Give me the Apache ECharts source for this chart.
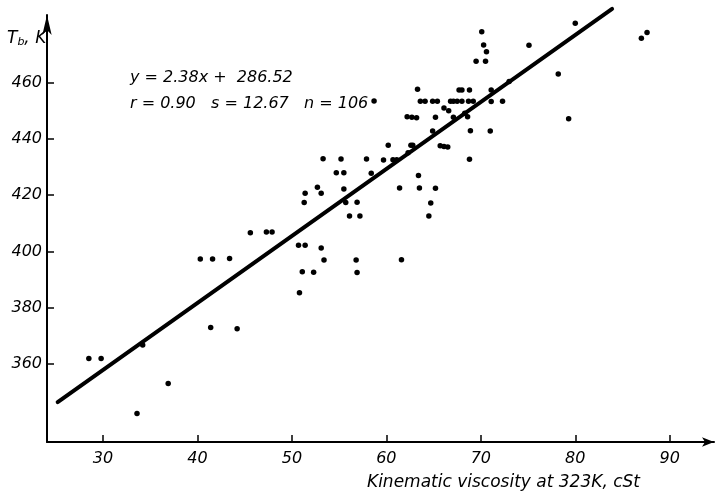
<!DOCTYPE html>
<html>
<head>
<meta charset="utf-8">
<style>
  html, body { margin: 0; padding: 0; background: #fff; }
  #chart { width: 722px; height: 500px; }
</style>
<script src="https://cdn.jsdelivr.net/npm/echarts@6/dist/echarts.min.js"></script>
</head>
<body>
<div id="chart"></div>
<script>
// Kinematic viscosity at 323 K (cSt) of each sample
const viscosity = [
  28.5, 29.8, 34.2, 36.9, 33.6, 41.4, 44.2, 40.3, 41.6, 43.4,
  45.6, 47.3, 47.9, 50.7, 51.4, 51.1, 52.3, 50.8, 53.1, 53.4,
  51.3, 51.4, 52.7, 53.1, 53.3, 54.7, 55.2, 55.5, 55.5, 55.7,
  56.1, 56.9, 57.2, 56.8, 56.9, 57.9, 58.4, 59.7, 60.2, 60.7,
  61.1, 61.4, 61.6, 62.6, 62.8, 63.4, 63.5, 58.7, 68.8, 65.2,
  64.7, 64.5, 70.1, 70.3, 70.6, 69.5, 70.5, 75.1, 80.0, 78.2,
  79.3, 73.0, 71.1, 71.1, 72.3, 71.0, 68.9, 63.3, 67.7, 68.0,
  68.8, 63.6, 64.1, 64.9, 65.4, 66.8, 67.1, 67.5, 68.0, 68.7,
  69.2, 66.1, 66.6, 62.2, 62.7, 63.2, 65.2, 67.1, 68.3, 68.6,
  64.9, 65.7, 66.1, 66.5, 62.3, 87.0, 87.6
];

// Measured temperature T (K) of each sample, same order
const temperature = [
  362.0, 362.0, 366.8, 353.1, 342.4, 373.0, 372.5, 397.3, 397.3, 397.5,
  406.7, 406.9, 406.9, 402.2, 402.2, 392.8, 392.6, 385.3, 401.2, 397.0,
  417.4, 420.7, 422.8, 420.7, 433.0, 428.0, 432.9, 428.0, 422.2, 417.4,
  412.6, 417.5, 412.6, 397.0, 392.5, 432.9, 427.8, 432.5, 437.8, 432.6,
  432.6, 422.6, 397.1, 437.8, 437.8, 427.0, 422.6, 453.5, 432.8, 422.5,
  417.2, 412.6, 478.1, 473.4, 471.0, 467.6, 467.6, 473.3, 481.1, 463.1,
  447.2, 460.4, 457.4, 453.3, 453.4, 442.8, 442.9, 457.7, 457.4, 457.4,
  457.4, 453.4, 453.4, 453.4, 453.4, 453.4, 453.4, 453.4, 453.4, 453.4,
  453.4, 451.0, 450.0, 447.9, 447.7, 447.5, 447.7, 447.7, 449.1, 447.9,
  442.8, 437.6, 437.3, 437.1, 435.1, 475.8, 477.8
];

// Tick labels on each axis
const xTicks = [30, 40, 50, 60, 70, 80, 90];
const yTicks = [360, 380, 400, 420, 440, 460];

// Least-squares fit as printed on the plot, and the span it is drawn over
const fitSlope = 2.38;
const fitIntercept = 286.52;
const fitSpan = [25.2, 83.9];

const fitText = 'y = 2.38x +  286.52';
const statsText = 'r = 0.90   s = 12.67   n = 106';
const xName = 'Kinematic viscosity at 323K, cSt';

const points = viscosity.map((v, i) => [v, temperature[i]]);
const fitLine = fitSpan.map(x => [x, fitSlope * x + fitIntercept]);

const FONT = '"DejaVu Sans", sans-serif';
const INK = '#000';

const chart = echarts.init(document.getElementById('chart'), null, { renderer: 'canvas' });

const axisCommon = {
  type: 'value',
  splitLine: { show: false },
  axisLine: {
    show: true,
    lineStyle: { color: INK, width: 2 }
  },
  axisTick: {
    show: true,
    inside: true,
    length: 7,
    lineStyle: { color: INK, width: 1.5 }
  },
  axisLabel: {
    color: INK,
    fontFamily: FONT,
    fontStyle: 'italic',
    fontSize: 16
  }
};

chart.setOption({
  animation: false,
  backgroundColor: '#fff',
  grid: {
    left: 47,
    right: 8,
    top: 15,
    bottom: 58,
    outerBoundsMode: 'none'
  },
  xAxis: Object.assign({}, axisCommon, {
    min: 24.07,
    max: 94.69,
    axisLine: Object.assign({}, axisCommon.axisLine, {
      symbol: ['none', 'arrow'],
      symbolSize: [7, 12]
    }),
    axisTick: Object.assign({}, axisCommon.axisTick, { customValues: xTicks }),
    axisLabel: Object.assign({}, axisCommon.axisLabel, {
      customValues: xTicks,
      margin: 9
    })
  }),
  yAxis: Object.assign({}, axisCommon, {
    min: 332.29,
    max: 484.05,
    axisLine: Object.assign({}, axisCommon.axisLine, {
      symbol: ['none', 'arrow'],
      symbolSize: [7, 20]
    }),
    axisTick: Object.assign({}, axisCommon.axisTick, { customValues: yTicks }),
    axisLabel: Object.assign({}, axisCommon.axisLabel, {
      customValues: yTicks,
      margin: 5
    })
  }),
  series: [
    {
      type: 'scatter',
      data: points,
      symbol: 'circle',
      symbolSize: 5.5,
      itemStyle: { color: INK, opacity: 1 },
      clip: false
    },
    {
      type: 'line',
      data: fitLine,
      symbol: 'none',
      lineStyle: { color: INK, width: 4, cap: 'round' },
      clip: false
    }
  ],
  graphic: [
    {
      type: 'text',
      left: 7,
      top: 30,
      style: {
        text: '{t|T}{s|b}{t|, K}',
        fill: INK,
        rich: {
          t: { fontFamily: FONT, fontStyle: 'italic', fontSize: 17, fill: INK },
          s: { fontFamily: FONT, fontStyle: 'italic', fontSize: 11, fill: INK, padding: [8, 0, 0, 0] }
        }
      }
    },
    {
      type: 'text',
      left: 130,
      top: 70,
      style: {
        text: fitText,
        fill: INK,
        font: 'italic 16px ' + FONT
      }
    },
    {
      type: 'text',
      left: 130,
      top: 96,
      style: {
        text: statsText,
        fill: INK,
        font: 'italic 16px ' + FONT
      }
    },
    {
      type: 'text',
      right: 82,
      top: 474,
      style: {
        text: xName,
        fill: INK,
        font: 'italic 17px ' + FONT
      }
    }
  ]
});
</script>
</body>
</html>
